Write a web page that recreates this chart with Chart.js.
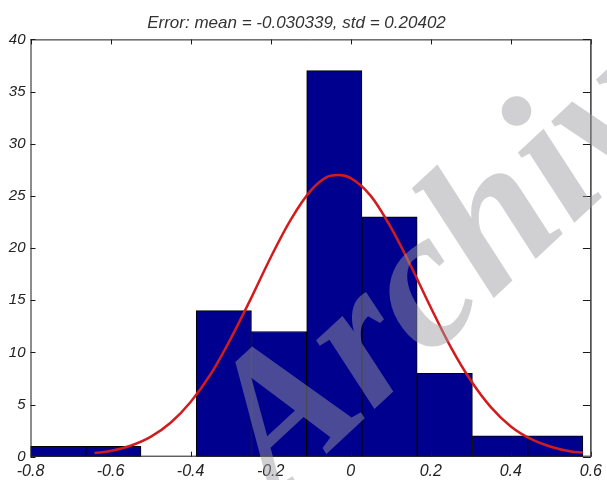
<!DOCTYPE html>
<html><head><meta charset="utf-8">
<script src="https://cdn.jsdelivr.net/npm/chart.js@4.4.1/dist/chart.umd.min.js"></script>
<style>html,body{margin:0;padding:0;background:#fff;}#wrap{width:607px;height:480px;}</style>
</head><body><div id="wrap"><canvas id="c" width="607" height="480"></canvas></div>
<script>
const titleText = 'Error: mean = -0.030339, std = 0.20402';
const binCenters = [-0.731, -0.593, -0.455, -0.317, -0.179, -0.041, 0.097, 0.235, 0.373, 0.511];
const binCounts = [1, 1, 0, 14, 12, 37, 23, 8, 2, 2];
const curveX = [-0.64, -0.6, -0.55, -0.5, -0.45, -0.4, -0.35, -0.3, -0.25, -0.2, -0.15, -0.1, -0.06, -0.03, 0, 0.05, 0.1, 0.15, 0.2, 0.25, 0.3, 0.35, 0.4, 0.45, 0.5, 0.55, 0.58];
const curveY = [0.35, 0.55, 1.05, 1.9, 3.25, 5.25, 7.9, 11.3, 15.1, 19.1, 22.7, 25.5, 26.8, 27.0, 26.7, 25.0, 22.0, 18.3, 14.3, 10.5, 7.3, 4.75, 2.9, 1.7, 0.95, 0.5, 0.4];
const xTicks = [-0.8, -0.6, -0.4, -0.2, 0, 0.2, 0.4, 0.6];
const yTicks = [0, 5, 10, 15, 20, 25, 30, 35, 40];
const watermarkText = 'Archive';

const boxPlugin = {
  id: 'matlabBox',
  afterDatasetsDraw(chart) {
    const {ctx, chartArea: a, scales} = chart;
    ctx.save();
    ctx.lineWidth = 1;
    ctx.strokeStyle = '#1a1a1a';
    ctx.beginPath();
    ctx.moveTo(a.left + 0.5, a.top + 0.5); ctx.lineTo(a.left + 0.5, a.bottom);
    ctx.moveTo(a.left, a.bottom - 0.5); ctx.lineTo(a.right, a.bottom - 0.5);
    ctx.moveTo(a.left, a.top + 0.5); ctx.lineTo(a.right, a.top + 0.5);
    for (const v of xTicks) {
      const px = Math.round(scales.x.getPixelForValue(v)) + 0.5;
      ctx.moveTo(px, a.bottom); ctx.lineTo(px, a.bottom - 5);
      ctx.moveTo(px, a.top); ctx.lineTo(px, a.top + 5);
    }
    for (const v of yTicks) {
      const py = Math.round(scales.y.getPixelForValue(v)) + 0.5;
      ctx.moveTo(a.left, py); ctx.lineTo(a.left + 5, py);
      ctx.moveTo(a.right, py); ctx.lineTo(a.right - 8, py);
    }
    ctx.stroke();
    ctx.strokeStyle = '#444';
    ctx.lineWidth = 1.6;
    ctx.beginPath();
    ctx.moveTo(a.right, a.top); ctx.lineTo(a.right, a.bottom);
    ctx.stroke();
    ctx.restore();
  }
};

const watermarkPlugin = {
  id: 'watermark',
  afterDraw(chart) {
    const ctx = chart.ctx;
    ctx.save();
    ctx.translate(276, 501);
    ctx.rotate(-Math.PI * 43 / 180);
    ctx.font = 'italic bold 196px "Liberation Serif"';
    ctx.fillStyle = 'rgba(156,156,160,0.475)';
    ctx.textBaseline = 'alphabetic';
    ctx.fillText(watermarkText, 0, 0);
    ctx.restore();
  }
};

new Chart(document.getElementById('c'), {
  type: 'bar',
  data: {
    datasets: [
      {
        type: 'line',
        data: curveX.map((x, i) => ({x, y: curveY[i]})),
        borderColor: '#d01c1c',
        borderWidth: 2.5,
        pointRadius: 0,
        cubicInterpolationMode: 'monotone',
        order: 1
      },
      {
        type: 'bar',
        data: binCenters.map((x, i) => ({x, y: binCounts[i]})),
        backgroundColor: '#00008f',
        borderColor: '#000000',
        borderWidth: 1,
        borderSkipped: false,
        barPercentage: 1,
        categoryPercentage: 1,
        order: 2
      }
    ]
  },
  options: {
    responsive: false,
    animation: false,
    devicePixelRatio: 1,
    layout: {padding: {left: 0, right: 14, top: 0, bottom: 0}},
    plugins: {
      legend: {display: false},
      tooltip: {enabled: false},
      title: {
        display: true,
        text: titleText,
        color: '#333',
        font: {family: 'Liberation Sans', size: 17, style: 'italic', weight: 'normal'},
        padding: {top: 13, bottom: 6}
      }
    },
    scales: {
      x: {
        type: 'linear',
        min: -0.8, max: 0.6,
        offset: false,
        grid: {display: false, drawTicks: false, tickLength: 0},
        border: {display: false},
        afterBuildTicks: s => { s.ticks = xTicks.map(v => ({value: v})); },
        afterFit: s => { s.height = 23.3; },
        ticks: {
          color: '#222', padding: 5, maxRotation: 0, autoSkip: false,
          font: {family: 'Liberation Sans', size: 16, style: 'italic'},
          callback: v => String(Math.round(v * 10) / 10)
        }
      },
      y: {
        min: 0, max: 40,
        grid: {display: false, drawTicks: false, tickLength: 0},
        border: {display: false},
        afterBuildTicks: s => { s.ticks = yTicks.map(v => ({value: v})); },
        afterFit: s => { s.width = 30.5; },
        ticks: {
          color: '#222', padding: 5,
          font: {family: 'Liberation Sans', size: 15, style: 'italic'}
        }
      }
    }
  },
  plugins: [boxPlugin, watermarkPlugin]
});
</script></body></html>
